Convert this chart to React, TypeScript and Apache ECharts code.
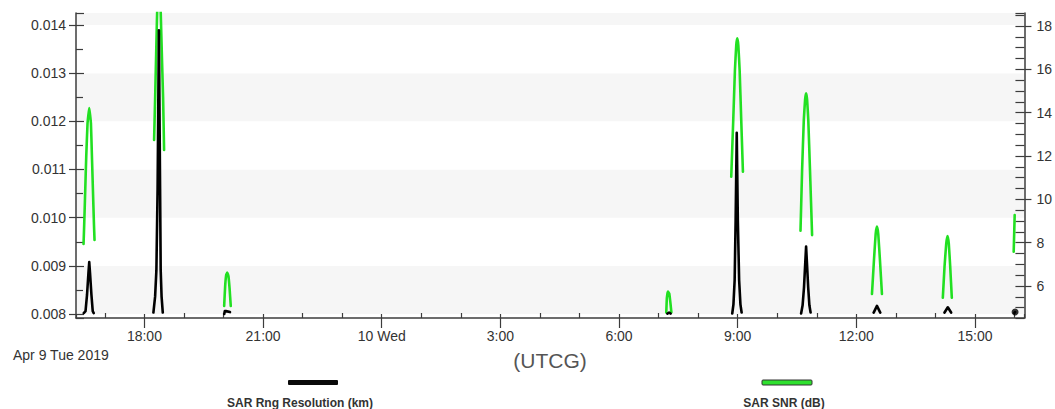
import React, { useEffect, useRef } from 'react';
import * as echarts from 'echarts';

// Access passes: SAR range resolution (km) on left axis
const rngTime: (string | null)[] = [
  '9 16:27:58', '9 16:30:40', '9 16:32:57', '9 16:35:04', '9 16:36:17', '9 16:37:29', '9 16:39:36', '9 16:41:34', '9 16:43:05', null,
  '9 18:13:38', '9 18:16:12', '9 18:18:10', '9 18:19:59', '9 18:21:57', '9 18:23:46', '9 18:24:41', '9 18:26:02', '9 18:27:51', null,
  '9 20:01:07', '9 20:01:53', '9 20:03:42', '9 20:09:45', null,
  '10 07:13:20', '10 07:15:55', '10 07:18:11', null,
  '10 08:51:45', '10 08:53:34', '10 08:55:23', '10 08:56:54', '10 08:58:34', '10 09:00:14', '10 09:02:12', '10 09:04:10', '10 09:05:59', null,
  '10 10:36:13', '10 10:38:29', '10 10:40:36', '10 10:42:16', '10 10:43:47', '10 10:45:18', '10 10:46:58', '10 10:48:47', '10 10:50:36', null,
  '10 12:26:17', '10 12:31:17', '10 12:36:17', null,
  '10 14:13:47', '10 14:18:46', '10 14:23:46', null,
  '10 15:59:46', '10 16:00:49',
];
const rngKm: (number | null)[] = [
  0.00802, 0.00806, 0.0084, 0.00885, 0.00908, 0.00885, 0.0084, 0.00806, 0.00802, null,
  0.00803, 0.00836, 0.00891, 0.0106, 0.01389, 0.0106, 0.00891, 0.00836, 0.00803, null,
  0.008, 0.00806, 0.00806, 0.00804, null,
  0.00801, 0.00803, 0.00801, null,
  0.00801, 0.0082, 0.0087, 0.00995, 0.01176, 0.00995, 0.0087, 0.0082, 0.00803, null,
  0.00801, 0.00818, 0.00855, 0.009, 0.0094, 0.009, 0.00855, 0.00818, 0.00803, null,
  0.00803, 0.00817, 0.00803, null,
  0.00803, 0.00814, 0.00803, null,
  0.00802, 0.00804,
];

// SAR SNR (dB) on right axis
const snrTime: (string | null)[] = [
  '9 16:27:39', '9 16:28:42', '9 16:30:13', '9 16:31:44', '9 16:33:42', '9 16:36:17', '9 16:38:51', '9 16:40:22', '9 16:41:53', '9 16:43:24', '9 16:44:18', null,
  '9 18:14:41', '9 18:16:12', '9 18:17:43', '9 18:18:55', '9 18:20:08', '9 18:21:39', '9 18:23:46', '9 18:25:17', '9 18:26:48', '9 18:28:19', '9 18:29:50', null,
  '9 20:00:58', '9 20:02:29', '9 20:04:00', '9 20:05:40', '9 20:07:29', '9 20:09:09', '9 20:10:58', null,
  '10 07:11:40', '10 07:12:35', '10 07:14:06', '10 07:16:13', '10 07:18:02', '10 07:19:24', null,
  '10 08:50:14', '10 08:53:16', '10 08:55:50', '10 08:57:48', '10 08:59:19', '10 09:00:59', '10 09:02:57', '10 09:05:23', '10 09:07:57', null,
  '10 10:35:18', '10 10:37:44', '10 10:40:18', '10 10:42:16', '10 10:43:47', '10 10:45:18', '10 10:47:07', '10 10:49:42', '10 10:52:52', null,
  '10 12:23:43', '10 12:26:45', '10 12:29:19', '10 12:31:17', '10 12:33:15', '10 12:35:49', '10 12:38:51', null,
  '10 14:11:12', '10 14:13:47', '10 14:16:21', '10 14:18:19', '10 14:20:17', '10 14:22:25', '10 14:24:50', null,
  '10 15:58:42', '10 16:00:13',
];
const snrDb: (number | null)[] = [
  7.94, 8.89, 10.43, 11.97, 13.51, 14.21, 13.51, 11.97, 10.43, 8.89, 8.12, null,
  12.74, 14.6, 16.6, 18.2, 19.5, 20.2, 19.6, 18.0, 16.3, 14.7, 12.28, null,
  5.08, 6.0, 6.5, 6.62, 6.45, 5.9, 5.08, null,
  4.78, 5.45, 5.74, 5.65, 5.2, 4.78, null,
  11.04, 13.66, 15.97, 17.1, 17.43, 17.1, 15.97, 13.66, 11.28, null,
  8.55, 11.35, 13.66, 14.6, 14.89, 14.6, 13.66, 11.35, 8.35, null,
  5.63, 7.2, 8.4, 8.74, 8.4, 7.2, 5.63, null,
  5.46, 6.89, 7.95, 8.31, 7.95, 6.89, 5.46, null,
  7.58, 9.28,
];

const xStart = '9 16:16:12';
const xEnd = '10 16:15:00';
const xTickHours = [18, 21, 24, 27, 30, 33, 36, 39];
const xTickLabels = ['18:00', '21:00', '10 Wed', '3:00', '6:00', '9:00', '12:00', '15:00'];
const dateLabel = 'Apr 9 Tue 2019';
const axisTitle = '(UTCG)';
const seriesNames = ['SAR Rng Resolution (km)', 'SAR SNR (dB)'];

const leftRange = [0.007917, 0.014249];
const rightRange = [4.523, 18.6];

// hours since Apr 9 00:00 UTCG
function toHours(s: string): number {
  const [d, t] = s.split(' ');
  const [h, m, sec] = t.split(':').map(Number);
  return (Number(d) - 9) * 24 + h + m / 60 + sec / 3600;
}

function pairs(times: (string | null)[], vals: (number | null)[]) {
  return times.map((t, i) => (t === null || vals[i] === null ? [NaN, NaN] : [toHours(t), vals[i] as number]));
}

const FONT = 'Liberation Sans, Arial, Helvetica, sans-serif';
const AXIS = '#3c3c3c';
const LABEL = '#333333';

export default function App() {
  const ref = useRef<HTMLDivElement>(null);
  useEffect(() => {
    if (!ref.current) return;
    const chart = echarts.init(ref.current, undefined, { renderer: 'svg' });
    const rngData = pairs(rngTime, rngKm);
    const snrData = pairs(snrTime, snrDb);
    const lastDot = [rngData[rngData.length - 1]];

    const xCommon = {
      type: 'value' as const,
      min: toHours(xStart),
      max: toHours(xEnd),
      minInterval: 3,
      maxInterval: 3,
      splitNumber: 8,
      position: 'bottom' as const,
      splitLine: { show: false },
    };
    const yLeftCommon = {
      type: 'value' as const,
      min: leftRange[0],
      max: leftRange[1],
      minInterval: 0.001,
      maxInterval: 0.001,
      splitNumber: 6,
      position: 'left' as const,
      splitLine: { show: false },
    };
    const yRightCommon = {
      type: 'value' as const,
      min: rightRange[0],
      max: rightRange[1],
      minInterval: 2,
      maxInterval: 2,
      splitNumber: 7,
      position: 'right' as const,
      splitLine: { show: false },
    };

    chart.setOption({
      animation: false,
      backgroundColor: '#ffffff',
      textStyle: { fontFamily: FONT },
      grid: { left: 76, right: 29, top: 13, height: 305, containLabel: false },
      xAxis: [
        {
          ...xCommon,
          axisLine: { show: true, lineStyle: { color: AXIS, width: 1.5 } },
          axisTick: { show: true, inside: false, length: 10, lineStyle: { color: AXIS, width: 1.2 } },
          axisLabel: {
            show: true,
            margin: 11,
            fontSize: 14,
            color: LABEL,
            fontFamily: FONT,
            showMinLabel: false,
            showMaxLabel: false,
            formatter: (v: number) => {
              const i = xTickHours.findIndex((h) => Math.abs(h - v) < 1e-6);
              return i >= 0 ? xTickLabels[i] : '';
            },
          },
        },
        {
          ...xCommon,
          axisLine: { show: false },
          axisTick: { show: true, inside: true, length: 4, lineStyle: { color: AXIS, width: 1.2 } },
          minorTick: { show: true, splitNumber: 3, length: 5, lineStyle: { color: AXIS, width: 1.2 } },
          axisLabel: { show: false },
        },
      ],
      yAxis: [
        {
          ...yLeftCommon,
          axisLine: { show: true, lineStyle: { color: AXIS, width: 1.5 } },
          axisTick: { show: true, inside: false, length: 7, lineStyle: { color: AXIS, width: 1.2 } },
          axisLabel: {
            show: true,
            margin: 10,
            fontSize: 14,
            color: LABEL,
            fontFamily: FONT,
            showMinLabel: false,
            showMaxLabel: false,
            formatter: (v: number) => (Math.abs(v * 1000 - Math.round(v * 1000)) < 1e-6 ? v.toFixed(3) : ''),
          },
          splitArea: { show: true, areaStyle: { color: ['#ffffff', '#f6f6f6'] } },
        },
        {
          ...yLeftCommon,
          axisLine: { show: false },
          axisTick: { show: true, inside: true, length: 8, lineStyle: { color: AXIS, width: 1.2 } },
          minorTick: { show: true, splitNumber: 2, length: 7, lineStyle: { color: AXIS, width: 1.2 } },
          axisLabel: { show: false },
        },
        {
          ...yRightCommon,
          axisLine: { show: true, lineStyle: { color: AXIS, width: 1.5 } },
          axisTick: { show: true, inside: false, length: 7, lineStyle: { color: AXIS, width: 1.2 } },
          axisLabel: {
            show: true,
            margin: 12,
            fontSize: 14,
            color: LABEL,
            fontFamily: FONT,
            showMinLabel: false,
            showMaxLabel: false,
            formatter: (v: number) => (Math.abs(v - Math.round(v)) < 1e-6 && Math.round(v) % 2 === 0 ? String(Math.round(v)) : ''),
          },
        },
        {
          ...yRightCommon,
          axisLine: { show: false },
          axisTick: { show: true, inside: true, length: 9, lineStyle: { color: AXIS, width: 1.2 } },
          minorTick: { show: true, splitNumber: 4, length: 9, lineStyle: { color: AXIS, width: 1.2 } },
          axisLabel: { show: false },
        },
      ],
      series: [
        {
          name: seriesNames[1],
          type: 'line',
          xAxisIndex: 0,
          yAxisIndex: 2,
          data: snrData,
          showSymbol: false,
          smooth: 0.1,
          connectNulls: false,
          clip: true,
          lineStyle: { color: '#22e022', width: 2.6, cap: 'round', join: 'round' },
          itemStyle: { color: '#22e022' },
          z: 3,
        },
        {
          name: seriesNames[0],
          type: 'line',
          xAxisIndex: 0,
          yAxisIndex: 0,
          data: rngData,
          showSymbol: false,
          connectNulls: false,
          clip: true,
          lineStyle: { color: '#000000', width: 2.6, cap: 'round', join: 'round' },
          itemStyle: { color: '#000000' },
          z: 4,
        },
        {
          name: seriesNames[0],
          type: 'scatter',
          xAxisIndex: 0,
          yAxisIndex: 0,
          data: lastDot,
          symbol: 'circle',
          symbolSize: 7,
          itemStyle: { color: '#000000' },
          z: 5,
        },
      ],
      graphic: [
        {
          type: 'text',
          x: 13,
          y: 355,
          style: { text: dateLabel, fontSize: 14, fontFamily: FONT, fill: LABEL, align: 'left', verticalAlign: 'middle' },
        },
        {
          type: 'text',
          x: 550,
          y: 360,
          style: { text: axisTitle, fontSize: 21, fontFamily: FONT, fill: '#555555', align: 'center', verticalAlign: 'middle' },
        },
        {
          type: 'rect',
          shape: { x: 288, y: 380, width: 50, height: 5, r: 1 },
          style: { fill: '#0a0a0a' },
        },
        {
          type: 'text',
          x: 300,
          y: 403,
          style: { text: seriesNames[0], fontSize: 12, fontWeight: 'bold', fontFamily: FONT, fill: '#333333', align: 'center', verticalAlign: 'middle' },
        },
        {
          type: 'rect',
          shape: { x: 762, y: 380, width: 50, height: 5, r: 1 },
          style: { fill: '#2ee02e', stroke: '#333333', lineWidth: 1 },
        },
        {
          type: 'text',
          x: 784,
          y: 403,
          style: { text: seriesNames[1], fontSize: 12, fontWeight: 'bold', fontFamily: FONT, fill: '#333333', align: 'center', verticalAlign: 'middle' },
        },
      ],
    });
    return () => chart.dispose();
  }, []);

  return <div ref={ref} style={{ position: 'fixed', left: 0, top: 0, width: 1055, height: 409 }} />;
}
